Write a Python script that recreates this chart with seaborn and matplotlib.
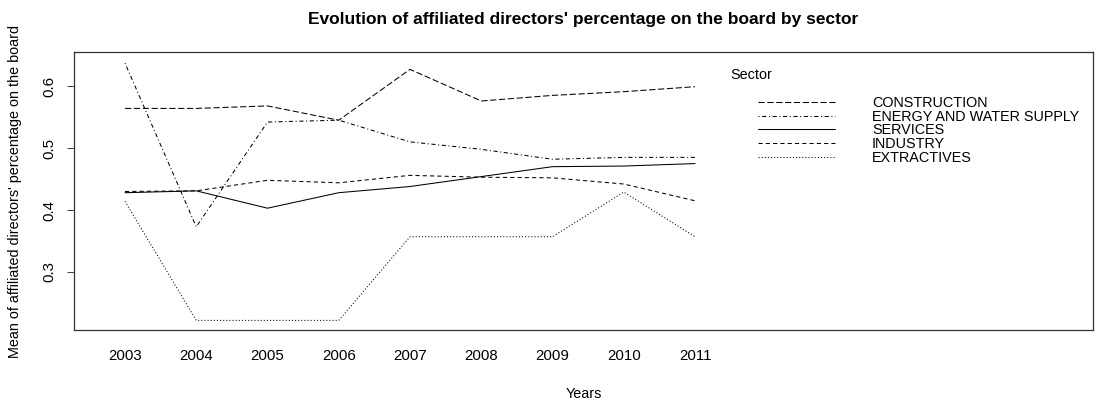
import matplotlib
matplotlib.use("Agg")
import matplotlib.pyplot as plt
from matplotlib.lines import Line2D
import seaborn as sns
import pandas as pd

years = [2003, 2004, 2005, 2006, 2007, 2008, 2009, 2010, 2011]
sectors = ["CONSTRUCTION", "ENERGY AND WATER SUPPLY", "SERVICES", "INDUSTRY", "EXTRACTIVES"]

construction = [0.564, 0.564, 0.568, 0.545, 0.627, 0.576, 0.585, 0.591, 0.599]
energy_water = [0.637, 0.373, 0.542, 0.545, 0.510, 0.498, 0.482, 0.485, 0.485]
services = [0.428, 0.431, 0.403, 0.428, 0.438, 0.454, 0.470, 0.471, 0.475]
industry = [0.430, 0.431, 0.448, 0.444, 0.456, 0.453, 0.452, 0.442, 0.415]
extractives = [0.414, 0.222, 0.222, 0.222, 0.357, 0.357, 0.357, 0.429, 0.357]

series = [construction, energy_water, services, industry, extractives]

y_ticks = [0.3, 0.4, 0.5, 0.6]

rows = []
for name, vals in zip(sectors, series):
    for yr, v in zip(years, vals):
        rows.append({"Years": yr, "Mean": v, "Sector": name})
df = pd.DataFrame(rows)

# line patterns (on/off lengths in line-width units)
dash_map = {
    "CONSTRUCTION": (6, 2.5),
    "ENERGY AND WATER SUPPLY": (1, 2.5, 4, 2.5),
    "SERVICES": "",
    "INDUSTRY": (4, 3),
    "EXTRACTIVES": (1, 2),
}

sns.set_style("white")
plt.rcParams["font.family"] = ["Liberation Sans", "DejaVu Sans"]
plt.rcParams["text.color"] = "black"
plt.rcParams["axes.labelcolor"] = "black"
plt.rcParams["xtick.color"] = "black"
plt.rcParams["ytick.color"] = "black"

fig = plt.figure(figsize=(10.96, 4.0), dpi=100)
ax = fig.add_axes([74 / 1096, 70 / 400, (1093 - 74) / 1096, (330 - 52) / 400])

lw = 0.75
sns.lineplot(data=df, x="Years", y="Mean", style="Sector", style_order=sectors,
             dashes=dash_map, color="black", linewidth=lw, legend=False, ax=ax)

ax.set_xlim(2003 - 51 / 71.25, 2003 + (1093 - 125) / 71.25)
ax.set_ylim(0.2065, 0.655)

ax.set_xticks(years)
ax.set_xticklabels([str(y) for y in years], fontsize=10.8)
ax.tick_params(axis="x", length=0, pad=14)
ax.set_yticks(y_ticks)
ax.set_yticklabels([f"{t:.1f}" for t in y_ticks], fontsize=10.8, rotation=90, va="center")
ax.tick_params(axis="y", left=True, length=5, width=0.75, pad=7.5, color="#444444")

for sp in ax.spines.values():
    sp.set_linewidth(0.9)
    sp.set_color("#333333")

ax.set_xlabel("Years", fontsize=10.4, labelpad=17)
ax.set_ylabel("Mean of affiliated directors' percentage on the board", fontsize=10.4, labelpad=15)
ax.set_title("Evolution of affiliated directors' percentage on the board by sector",
             fontsize=12.5, fontweight="bold", pad=20)

# legend
handles = []
for name in sectors:
    h = Line2D([], [], color="black", linewidth=lw)
    d = dash_map[name]
    if d:
        h.set_dashes(d)
    handles.append(h)
fig.text(730 / 1096, 1 - 75 / 400, "Sector", fontsize=10.4, ha="left", va="center")
leg = fig.legend(handles, sectors, loc="upper left",
                 bbox_to_anchor=(758 / 1096, 1 - 96 / 400),
                 frameon=False, fontsize=10.4, handlelength=5.3, handletextpad=2.6,
                 labelspacing=-0.02, borderpad=0, borderaxespad=0)

fig.savefig("out.png", dpi=100, facecolor="white")
